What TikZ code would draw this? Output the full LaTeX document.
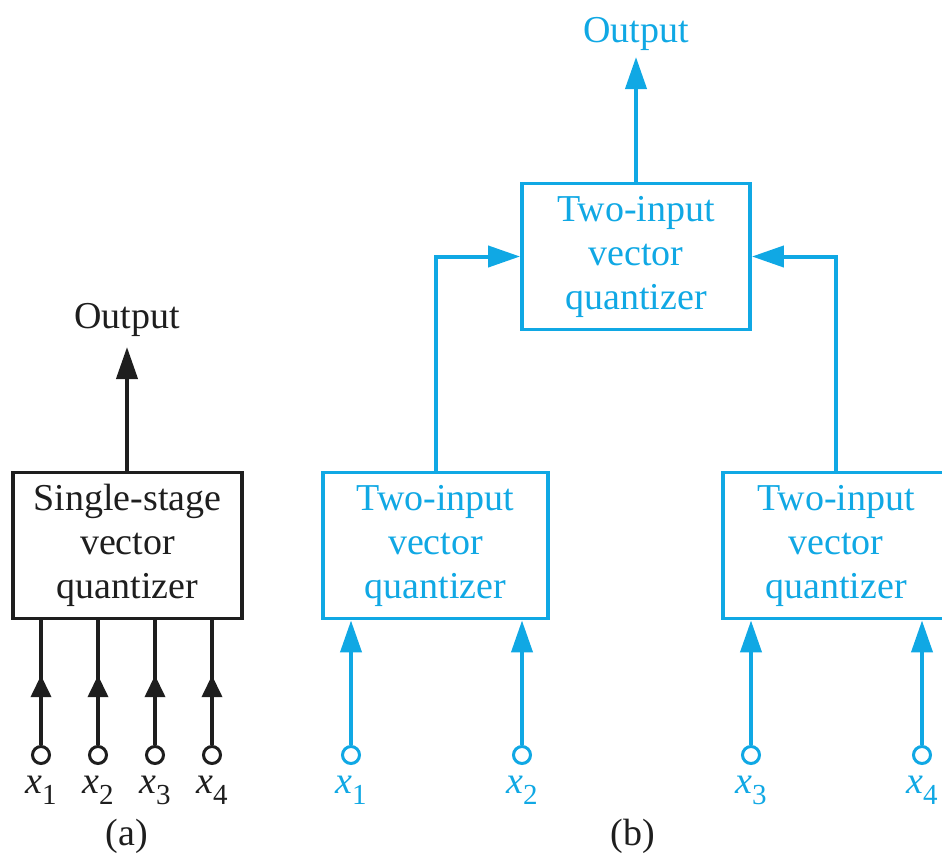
\documentclass[tikz,border=0pt]{standalone}
\usepackage{fontspec}
\setmainfont{Liberation Serif}
\usetikzlibrary{arrows.meta,decorations.markings}
\definecolor{qblue}{RGB}{16,168,228}
\definecolor{qdark}{RGB}{30,30,30}
\newcommand{\xsub}[1]{\textit{x}\raisebox{-11pt}{\fontsize{29}{29}\selectfont #1}}
\tikzset{
  x=1pt, y=-1pt,
  every node/.style={font=\fontsize{38}{44}\selectfont},
  qbox/.style={draw, line width=3.8pt, align=center, inner sep=0pt,
    minimum width=#1, minimum height=146},
  qbox/.default=228,
  wire/.style={line width=4pt},
  arrow/.style={wire, -{Triangle[length=32pt,width=21pt]}},
  port/.style={circle, draw, fill=white, line width=3pt, minimum size=17pt, inner sep=0pt},
  midarrow/.style={wire, postaction={decorate}, decoration={markings,
    mark=at position 0.56 with {\arrow{Triangle[length=22pt,width=20pt]}}}},
  lbl/.style={anchor=base}
}
\begin{document}
\begin{tikzpicture}
\useasboundingbox (0,0) rectangle (942,857);

% (a) single-stage quantizer
\begin{scope}[qdark]
  \node[qbox=229, text=qdark] (A) at (127.5,545.5) {Single-stage\\vector\\quantizer};
  \node[lbl, text=qdark] (outA) at (127,328) {Output};
  \coordinate (tipA) at (127,347);
  \draw[arrow] (A.north -| tipA) -- (tipA);
  \foreach \i/\xx in {1/41,2/98,3/155,4/212} {
    \node[port] (a\i) at (\xx,755) {};
    \draw[midarrow] (a\i) -- (a\i |- A.south);
    \node[lbl, text=qdark] (la\i) at (\xx,793) {\xsub{\i}};
  }
  \node[lbl, text=qdark] (capA) at (127,845) {(a)};
\end{scope}

% (b) tree of two-input quantizers
\begin{scope}[qblue]
  \node[qbox, text=qblue] (T) at (636,256.5) {Two-input\\vector\\quantizer};
  \node[qbox=225, text=qblue] (L) at (435.5,545.5) {Two-input\\vector\\quantizer};
  \node[qbox=226, text=qblue] (R) at (836,545.5) {Two-input\\vector\\quantizer};
  \node[lbl, text=qblue] (outB) at (636,42) {Output};
  \coordinate (tipB) at (636,57);
  \draw[arrow] (T.north) -- (tipB);
  \draw[arrow] (L.north) |- (T.west);
  \draw[arrow] (R.north) |- (T.east);
  \foreach \i/\xx/\bx in {1/351/L,2/522/L,3/751/R,4/922/R} {
    \node[port] (b\i) at (\xx,755) {};
    \draw[arrow] (b\i) -- (b\i |- \bx.south);
    \node[lbl, text=qblue] (lb\i) at (\xx,793) {\xsub{\i}};
  }
  \node[lbl, text=qdark] (capB) at (633,845) {(b)};
\end{scope}
\end{tikzpicture}
\end{document}
